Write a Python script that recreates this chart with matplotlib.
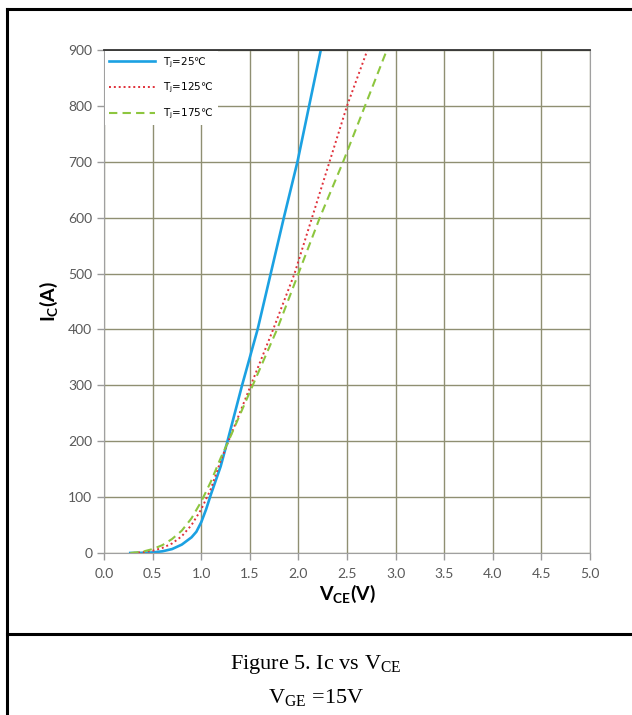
import matplotlib
matplotlib.use('Agg')
from matplotlib import pyplot as plt
from matplotlib.lines import Line2D
from matplotlib.font_manager import FontProperties

plt.rcParams['font.family'] = ['Lato', 'DejaVu Sans']
plt.rcParams['mathtext.fontset'] = 'custom'
plt.rcParams['mathtext.rm'] = 'Lato'
plt.rcParams['mathtext.bf'] = 'Lato:bold'

# T=25C
vce_25 = [0.27, 0.4, 0.5, 0.6, 0.7, 0.8, 0.9, 0.95, 1.0, 1.05, 1.1, 1.2, 1.27,
          1.42, 1.58, 1.715, 1.85, 1.99, 2.11, 2.23]
ic_25 = [0, 0.3, 1, 3, 7, 15, 28, 38, 55, 78, 105, 155, 200,
         300, 400, 500, 600, 700, 800, 900]
# T=125C
vce_125 = [0.3, 0.4, 0.5, 0.6, 0.7, 0.8, 0.9, 1.0, 1.1, 1.2, 1.28,
           1.51, 1.74, 1.96, 2.14, 2.32, 2.50, 2.71]
ic_125 = [0, 1.5, 4, 9, 17, 30, 50, 78, 115, 165, 200,
          300, 400, 500, 600, 700, 800, 900]
# T=175C
vce_175 = [0.27, 0.4, 0.5, 0.6, 0.7, 0.8, 0.9, 1.0, 1.1, 1.2, 1.28,
           1.53, 1.78, 2.0, 2.22, 2.46, 2.685, 2.91]
ic_175 = [0, 2.5, 7, 14, 25, 40, 62, 92, 128, 170, 200,
          300, 400, 500, 600, 700, 800, 900]

labels = ['T$_\\mathregular{j}$=25℃', 'T$_\\mathregular{j}$=125℃', 'T$_\\mathregular{j}$=175℃']
xticks = [0.0, 0.5, 1.0, 1.5, 2.0, 2.5, 3.0, 3.5, 4.0, 4.5, 5.0]
yticks = [0, 100, 200, 300, 400, 500, 600, 700, 800, 900]

fig = plt.figure(figsize=(6.32, 7.15), dpi=100)
ax = fig.add_axes([0.1646, 0.2266, 0.769, 0.7035])

ax.plot(vce_25, ic_25, color='#1BA1E2', lw=1.9, label=labels[0])
ax.plot(vce_125, ic_125, color='#E0303A', lw=1.4, ls=(0, (1, 1.5)), label=labels[1])
ax.plot(vce_175, ic_175, color='#8DC63F', lw=1.5, ls=(0, (4, 2.5)), label=labels[2])

ax.set_xlim(0, 5)
ax.set_ylim(0, 900)
ax.set_xticks(xticks)
ax.set_xticklabels(['%.1f' % v for v in xticks])
ax.set_yticks(yticks)
ax.grid(True, color='#8F8F72', lw=1.0)
ax.set_axisbelow(True)
ax.tick_params(colors='#9a9a9a', labelcolor='#595959', labelsize=10, length=5, width=1)
ax.tick_params(axis='x', pad=6)

for s in ['left', 'right', 'bottom']:
    ax.spines[s].set_color('#a0a0a0')
ax.spines['top'].set_color('#333333')
ax.spines['top'].set_linewidth(1.3)

ax.set_xlabel('$\\mathbf{V_{CE}}$(V)', fontsize=14, fontweight='bold', labelpad=2)
ax.set_ylabel('$\\mathbf{I_{C}}$(A)', fontsize=14, fontweight='bold', labelpad=6)

leg_font = FontProperties(family='DejaVu Sans', size=7.5, math_fontfamily='dejavusans')
leg = ax.legend(loc='upper left', prop=leg_font, handlelength=4.4, frameon=True,
                framealpha=1, edgecolor='none', fancybox=False,
                borderaxespad=0.1, labelspacing=1.1)
leg.get_frame().set_facecolor('white')

# outer table-like borders
lw = 2.2
fig.add_artist(Line2D([7 / 632, 7 / 632], [0, 1 - 9 / 715], color='black', lw=lw))
fig.add_artist(Line2D([7 / 632, 1], [1 - 9 / 715, 1 - 9 / 715], color='black', lw=lw))
fig.add_artist(Line2D([7 / 632, 1], [1 - 634 / 715, 1 - 634 / 715], color='black', lw=lw))

fig.text(0.5, 1 - 664 / 715, 'Figure 5. Ic vs V$_{\\mathregular{CE}}$', ha='center', va='center',
         fontsize=16, family='Liberation Serif', math_fontfamily='stix')
fig.text(0.5, 1 - 697 / 715, 'V$_{\\mathregular{GE}}$ =15V', ha='center', va='center',
         fontsize=16, family='Liberation Serif', math_fontfamily='stix')

fig.savefig('out.png', dpi=100)
